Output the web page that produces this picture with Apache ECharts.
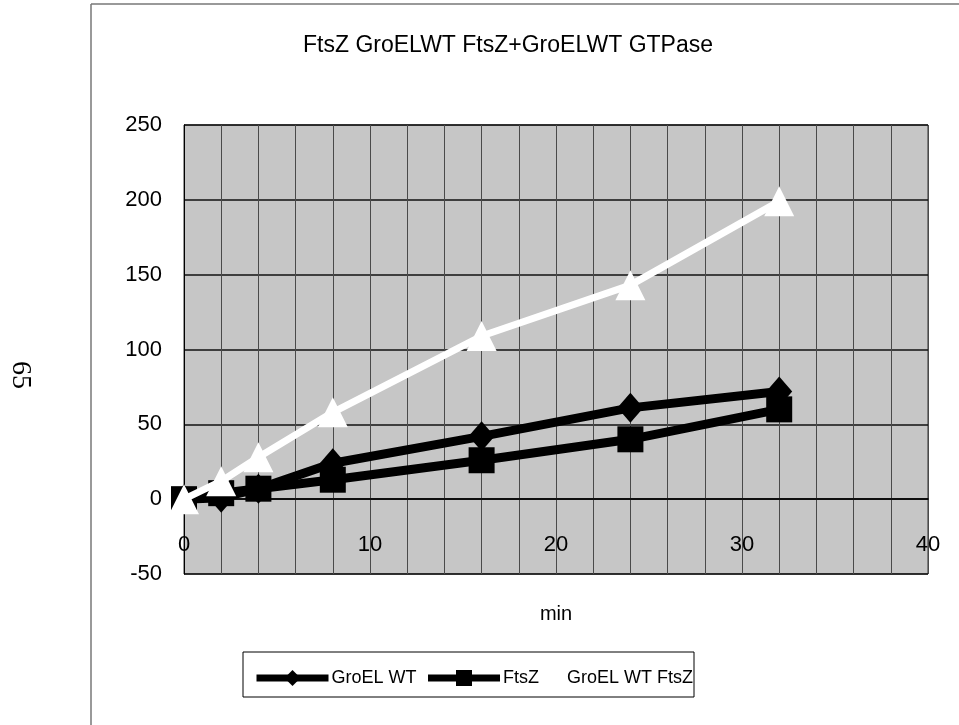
<!DOCTYPE html>
<html>
<head>
<meta charset="utf-8">
<script src="https://cdn.jsdelivr.net/npm/echarts@6/dist/echarts.min.js"></script>
<style>
  html, body { margin: 0; padding: 0; background: #ffffff; }
  #chart { width: 959px; height: 725px; }
</style>
</head>
<body>
<div id="chart"></div>
<script>
// Time points (min) and GTPase activity for each sample
const minutes = [0, 2, 4, 8, 16, 24, 32];
const groelWT = [0, 1, 7, 24, 42, 61, 72];
const ftsZ = [0, 4, 7, 13, 26, 40, 60];
const groelWTFtsZ = [0, 12, 28, 58, 109, 143, 199];

const seriesNames = ['GroEL WT', 'FtsZ', 'GroEL WT FtsZ'];
const chartTitle = 'FtsZ GroELWT FtsZ+GroELWT GTPase';
const xAxisName = 'min';
const pageNumber = '65';

const pairs = (ys) => minutes.map((m, i) => [m, ys[i]]);
const FONT = 'Liberation Sans, Arial, sans-serif';

// plot box in pixels; the x axis sits on y = 0, i.e. 50/300 of the height above the bottom
const GRID = { left: 184, right: 31, top: 125, bottom: 151 };
const Y_MIN = -50, Y_MAX = 250;
const plotHeight = 725 - GRID.top - GRID.bottom;
const zeroOffset = -plotHeight * (0 - Y_MIN) / (Y_MAX - Y_MIN);

const chart = echarts.init(document.getElementById('chart'), null, { renderer: 'canvas' });

chart.setOption({
  animation: false,
  backgroundColor: '#ffffff',
  title: {
    text: chartTitle,
    left: 503,
    top: 29,
    textAlign: 'center',
    textStyle: { fontFamily: FONT, fontSize: 23, fontWeight: 'normal', color: '#000' }
  },
  grid: Object.assign({
    show: true,
    backgroundColor: '#c6c6c6',
    borderColor: '#333',
    borderWidth: 1
  }, GRID),
  legend: [
    {
      data: [seriesNames[0], seriesNames[1]],
      left: 248, top: 664,
      itemWidth: 72, itemHeight: 20, itemGap: 8,
      lineStyle: { width: 7 },
      textStyle: { fontFamily: FONT, fontSize: 18, color: '#000', padding: [0, 0, 0, -2] }
    },
    {
      data: [seriesNames[2]],
      left: 540, top: 664,
      itemWidth: 16, itemHeight: 20,
      textStyle: { fontFamily: FONT, fontSize: 18, color: '#000' }
    }
  ],
  xAxis: {
    type: 'value',
    min: 0, max: 40, interval: 10,
    offset: zeroOffset,
    name: xAxisName,
    nameLocation: 'middle',
    nameGap: 105,
    nameTextStyle: { fontFamily: FONT, fontSize: 20, color: '#000' },
    axisLine: { onZero: false, lineStyle: { color: '#000', width: 1.5 } },
    axisTick: { show: false },
    axisLabel: { margin: 35, fontFamily: FONT, fontSize: 22, color: '#000' },
    splitLine: { show: true, lineStyle: { color: '#4a4a4a', width: 1 } },
    minorTick: { show: false, splitNumber: 5 },
    minorSplitLine: { show: true, lineStyle: { color: '#4a4a4a', width: 1 } }
  },
  yAxis: {
    type: 'value',
    min: Y_MIN, max: Y_MAX, interval: 50,
    axisLine: { show: true, onZero: false, lineStyle: { color: '#000', width: 1 } },
    axisTick: { show: false },
    axisLabel: { margin: 22, fontFamily: FONT, fontSize: 22, color: '#000' },
    splitLine: { show: true, lineStyle: { color: '#111', width: 1.5 } }
  },
  series: [
    {
      name: seriesNames[0],
      type: 'line',
      data: pairs(groelWT),
      symbol: 'diamond',
      symbolSize: [26, 30],
      lineStyle: { color: '#000', width: 9 },
      itemStyle: { color: '#000', borderWidth: 0 },
      z: 3
    },
    {
      name: seriesNames[1],
      type: 'line',
      data: pairs(ftsZ),
      symbol: 'rect',
      symbolSize: 26,
      lineStyle: { color: '#000', width: 9 },
      itemStyle: { color: '#000', borderWidth: 0 },
      z: 4
    },
    {
      name: seriesNames[2],
      type: 'line',
      data: pairs(groelWTFtsZ),
      symbol: 'triangle',
      symbolSize: [30, 30],
      lineStyle: { color: '#fff', width: 7 },
      itemStyle: { color: '#fff', borderWidth: 0 },
      z: 5
    }
  ],
  graphic: [
    // outer chart frame
    { type: 'line', shape: { x1: 91, y1: 4, x2: 91, y2: 725 }, style: { stroke: '#777', lineWidth: 1.5 }, silent: true },
    { type: 'line', shape: { x1: 91, y1: 4, x2: 959, y2: 4 }, style: { stroke: '#777', lineWidth: 1.5 }, silent: true },
    // legend frame
    { type: 'rect', shape: { x: 243, y: 652, width: 451, height: 45 }, style: { fill: 'none', stroke: '#000', lineWidth: 1 }, z: -1, silent: true },
    // page number printed sideways in the margin
    {
      type: 'text',
      x: 20, y: 375,
      rotation: -Math.PI / 2,
      style: { text: pageNumber, fontFamily: 'Liberation Serif, serif', fontSize: 28, fill: '#000', textAlign: 'center', textVerticalAlign: 'middle' },
      silent: true
    }
  ]
});
</script>
</body>
</html>
